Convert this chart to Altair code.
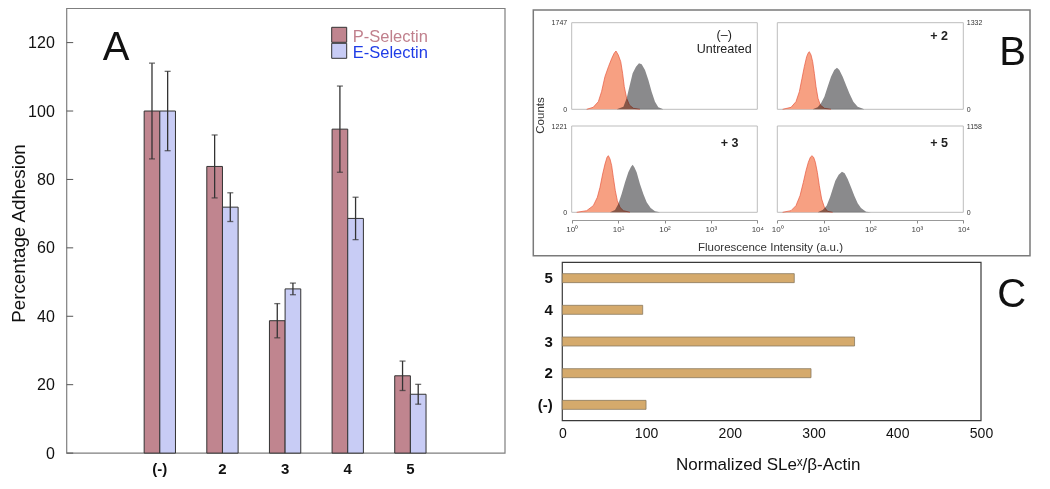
import altair as alt
import pandas as pd

# ---------------- data ----------------
# Panel A: percentage adhesion (bars with error bars)
a_categories = ["(-)", "2", "3", "4", "5"]
a_series = ["P-Selectin", "E-Selectin"]
p_selectin = [100.0, 83.8, 38.7, 94.7, 22.6]
p_selectin_err = [14.0, 9.2, 5.0, 12.6, 4.3]
e_selectin = [100.0, 71.9, 48.0, 68.6, 17.2]
e_selectin_err = [11.6, 4.2, 1.7, 6.2, 2.9]
a_y_ticks = [0, 20, 40, 60, 80, 100, 120]

# Panel B: flow cytometry histograms (fluorescence intensity, counts)
b_labels = ["(–)\nUntreated", "+ 2", "+ 3", "+ 5"]
b_count_max = [1747, 1332, 1221, 1158]
b_x_ticks = [1, 10, 100, 1000, 10000]

untreated_ctrl_fl = [2.1, 2.9, 3.75, 4.4, 5.2, 6.2, 7.3, 8.2, 9.0, 10.1, 11.4, 12.5, 13.6, 15.3, 17.5, 21.3, 29.6]
untreated_ctrl_ct = [0, 40, 154, 356, 658, 860, 1028, 1129, 1176, 1095, 961, 726, 457, 221, 87, 20, 0]
untreated_slex_fl = [9.3, 13.0, 15.3, 17.5, 20.6, 24.3, 28.2, 32.2, 38.0, 44.9, 52.8, 62.4, 73.6, 94.4]
untreated_slex_ct = [0, 53, 221, 457, 726, 860, 927, 907, 793, 591, 356, 154, 40, 0]

c2_ctrl_fl = [1.3, 1.97, 2.52, 2.98, 3.4, 3.81, 4.28, 4.65, 4.88, 5.31, 5.76, 6.26, 6.8, 7.5, 8.42, 10.3, 14.3]
c2_ctrl_ct = [0, 30, 117, 271, 476, 656, 810, 871, 886, 835, 733, 553, 348, 169, 66, 15, 0]
c2_slex_fl = [5.76, 7.38, 8.71, 10.3, 12.1, 14.3, 16.8, 19.2, 21.6, 25.5, 30.0, 35.4, 43.2, 53.5, 74.5]
c2_slex_ct = [0, 30, 92, 194, 348, 502, 604, 640, 604, 502, 374, 246, 117, 40, 0]

c3_ctrl_fl = [1.28, 2.1, 2.92, 3.57, 4.07, 4.65, 5.22, 5.77, 6.16, 6.69, 7.27, 7.89, 8.71, 9.62, 11.0, 13.0, 18.0]
c3_ctrl_ct = [0, 23, 94, 212, 353, 542, 683, 778, 801, 754, 660, 495, 306, 165, 70, 23, 0]
c3_slex_fl = [6.69, 8.58, 10.1, 11.9, 14.1, 16.6, 19.0, 20.6, 22.4, 25.1, 29.6, 35.0, 41.3, 50.4, 62.4, 80.0]
c3_slex_ct = [0, 33, 117, 259, 424, 566, 646, 674, 636, 566, 400, 259, 141, 61, 14, 0]

c5_ctrl_fl = [1.3, 1.97, 2.52, 3.08, 3.63, 4.14, 4.65, 5.13, 5.57, 6.05, 6.58, 7.26, 8.01, 9.0, 10.3, 12.1, 15.5]
c5_ctrl_ct = [0, 22, 89, 223, 402, 559, 671, 738, 760, 738, 671, 536, 357, 178, 67, 13, 0]
c5_slex_fl = [7.38, 9.46, 11.5, 13.6, 15.5, 17.7, 20.9, 24.6, 28.1, 32.6, 38.5, 45.3, 53.5, 63.1, 80.9, 103.5]
c5_slex_ct = [0, 31, 89, 201, 313, 425, 505, 545, 523, 447, 335, 223, 120, 58, 8, 0]

# Panel C: normalized SLex / beta-actin
c_categories = ["5", "4", "3", "2", "(-)"]
c_values = [277, 96, 349, 297, 100]
c_x_ticks = [0, 100, 200, 300, 400, 500]

# ---------------- layout (pixels, chart coordinates) ----------------
W, H = 1034, 473
A_X0, A_X1, A_Y0, A_Y1 = 58.7, 497.0, 0.4, 445.1
A_BAND_RANGE = [120.5, 433.7]
B_BOXES = [(563.7, 749.3, 14.7, 101.3), (769.3, 955.3, 14.7, 101.3),
           (563.7, 749.3, 118.0, 204.3), (769.3, 955.3, 118.0, 204.3)]
B_AXIS_Y = 212.0
B_OUTER = (525.3, 1022.0, 2.0, 247.7)
C_X0, C_X1, C_Y0, C_Y1 = 554.3, 973.0, 254.3, 412.7

P_COLOR, E_COLOR = "#C0858F", "#C8CCF5"
SALMON, SALMON_EDGE, GRAY = "#F7A082", "#E6573F", "#8A8A8C"
TAN = "#D5AA6C"
dummy = pd.DataFrame({"k": [0]})

children = []


def frame(x0, x1, y0, y1, color, width):
    return alt.Chart(dummy).mark_rect(fillOpacity=0, stroke=color, strokeWidth=width).encode(
        x=alt.value(x0), x2=alt.value(x1), y=alt.value(y0), y2=alt.value(y1))


def label(text, x, y, size, weight="normal", color="#111", align="center", **kw):
    return alt.Chart(dummy).mark_text(text=text, fontSize=size, fontWeight=weight, color=color,
                                      align=align, baseline="alphabetic", **kw).encode(
        x=alt.value(x), y=alt.value(y))


# ---------------- panel A ----------------
rows = []
for i, c in enumerate(a_categories):
    rows.append({"cat": c, "series": a_series[0], "value": p_selectin[i], "err": p_selectin_err[i]})
    rows.append({"cat": c, "series": a_series[1], "value": e_selectin[i], "err": e_selectin_err[i]})
dfA = pd.DataFrame(rows)

xA_scale = alt.Scale(domain=a_categories, range=A_BAND_RANGE, paddingInner=0.5, paddingOuter=0.25)
yA_scale = alt.Scale(domain=[0, 130], range=[A_Y1, A_Y0], nice=False, zero=True)
xoff = alt.XOffset("series:N", sort=a_series, scale=alt.Scale(domain=a_series))

xA = alt.X("cat:N", sort=a_categories, scale=xA_scale,
           axis=alt.Axis(orient="bottom", offset=A_Y1 - H, title=None, domain=False, ticks=False,
                         tickSize=0, labelAngle=0, labelFontSize=15, labelFontWeight="bold",
                         labelPadding=8, labelColor="#111", zindex=2))
xA_plain = alt.X("cat:N", sort=a_categories, scale=xA_scale, axis=None)
yA = alt.Y("value:Q", scale=yA_scale,
           axis=alt.Axis(orient="left", offset=-A_X0, values=a_y_ticks, domain=False, ticks=False,
                         tickSize=0, grid=False, labelFontSize=16, labelPadding=12.4,
                         labelColor="#111", title="Percentage Adhesion", titleX=17.0 - A_X0,
                         titleY=225, titleAngle=270, titleAlign="center",
                         titleBaseline="alphabetic", titleFontSize=18.8,
                         titleFontWeight="normal", titleColor="#111", zindex=2))

children.append(frame(A_X0, A_X1, A_Y0, A_Y1, "#7F7F7F", 1.2))
children.append(alt.Chart(dfA).mark_bar(stroke="#333333", strokeWidth=1).encode(
    x=xA, xOffset=xoff, y=yA,
    color=alt.Color("series:N", scale=alt.Scale(domain=a_series, range=[P_COLOR, E_COLOR]), legend=None)))
errBase = alt.Chart(dfA).transform_calculate(lo="datum.value - datum.err", hi="datum.value + datum.err")
children.append(errBase.mark_rule(color="#333333", strokeWidth=1.3).encode(
    x=xA_plain, xOffset=xoff, y=alt.Y("lo:Q", scale=yA_scale, axis=None), y2="hi:Q"))
children.append(errBase.mark_tick(color="#333333", thickness=1.3, size=6).encode(
    x=xA_plain, xOffset=xoff, y=alt.Y("lo:Q", scale=yA_scale, axis=None)))
children.append(errBase.mark_tick(color="#333333", thickness=1.3, size=6).encode(
    x=xA_plain, xOffset=xoff, y=alt.Y("hi:Q", scale=yA_scale, axis=None)))
children.append(alt.Chart(pd.DataFrame({"t": a_y_ticks})).mark_rule(color="#555555", strokeWidth=1).encode(
    y=alt.Y("t:Q", scale=yA_scale, axis=None), x=alt.value(A_X0), x2=alt.value(A_X0 + 6.5)))

# legend of panel A
children.append(alt.Chart(dummy).mark_rect(fill=P_COLOR, stroke="#333333", strokeWidth=1).encode(
    x=alt.value(323.7), x2=alt.value(338.7), y=alt.value(19.3), y2=alt.value(34.3)))
children.append(alt.Chart(dummy).mark_rect(fill=E_COLOR, stroke="#333333", strokeWidth=1).encode(
    x=alt.value(323.7), x2=alt.value(338.7), y=alt.value(35.3), y2=alt.value(50.3)))
children.append(label(a_series[0], 344.7, 34.3, 16.5, color="#C0808D", align="left"))
children.append(label(a_series[1], 344.7, 50.3, 16.5, color="#1F3CE6", align="left"))
children.append(label("A", 108.0, 52.0, 40))


# ---------------- panel B ----------------
children.append(frame(*B_OUTER, "#7A7A7A", 1.5))


def b_panel(k, ctrl_fl, ctrl_ct, slex_fl, slex_ct):
    x0, x1, y0, y1 = B_BOXES[k]
    left = k in (0, 2)
    bottom = k in (2, 3)
    xs = alt.Scale(type="log", domain=[1, 10000], range=[x0, x1], nice=False)
    ys = alt.Scale(domain=[0, b_count_max[k]], range=[y1, y0], nice=False, zero=True)
    ykw = dict(orient="left" if left else "right", offset=(-x0 if left else x1 - W),
               values=[0, b_count_max[k]], format="d", domain=False, ticks=False, tickSize=0,
               grid=False, labelFontSize=7, labelColor="#333333", labelPadding=5 if left else 3,
               title=None, zindex=2)
    if k == 0:
        ykw.update(title="Counts", titleX=532.0 - x0, titleY=107, titleAngle=270,
                   titleAlign="center", titleBaseline="middle", titleFontSize=11.5,
                   titleFontWeight="normal", titleColor="#333333")
    yax = alt.Axis(**ykw)
    if bottom:
        xkw = dict(orient="bottom", offset=B_AXIS_Y - H, values=b_x_ticks,
                   labelExpr="'10' + ['⁰','¹','²','³','⁴'][round(log(datum.value)/LN10)]",
                   labelFontSize=8, labelColor="#444444", labelPadding=2, tickSize=3,
                   tickColor="#888888", domainColor="#999999", grid=False, labelFlush=False,
                   labelOverlap=False, title=None, zindex=2)
        if k == 2:
            xkw.update(title="Fluorescence Intensity (a.u.)", titleX=762.0, titleY=27.7,
                       titleAlign="center", titleBaseline="middle", titleFontSize=11.5,
                       titleFontWeight="normal", titleColor="#333333")
        xax = alt.Axis(**xkw)
    else:
        xax = None
    dctrl = pd.DataFrame({"fl": ctrl_fl, "count": ctrl_ct})
    dslex = pd.DataFrame({"fl": slex_fl, "count": slex_ct})
    out = [frame(x0, x1, y0, y1, "#BDBDBD", 1)]
    out.append(alt.Chart(dctrl).mark_area(color=SALMON, opacity=1).encode(
        x=alt.X("fl:Q", scale=xs, axis=xax), y=alt.Y("count:Q", scale=ys, axis=yax)))
    out.append(alt.Chart(dctrl).mark_line(color=SALMON_EDGE, strokeWidth=0.7).encode(
        x=alt.X("fl:Q", scale=xs, axis=None), y=alt.Y("count:Q", scale=ys, axis=None)))
    out.append(alt.Chart(dslex).mark_area(color=GRAY, opacity=1, blend="multiply").encode(
        x=alt.X("fl:Q", scale=xs, axis=None), y=alt.Y("count:Q", scale=ys, axis=None)))
    return out


children += b_panel(0, untreated_ctrl_fl, untreated_ctrl_ct, untreated_slex_fl, untreated_slex_ct)
children += b_panel(1, c2_ctrl_fl, c2_ctrl_ct, c2_slex_fl, c2_slex_ct)
children += b_panel(2, c3_ctrl_fl, c3_ctrl_ct, c3_slex_fl, c3_slex_ct)
children += b_panel(3, c5_ctrl_fl, c5_ctrl_ct, c5_slex_fl, c5_slex_ct)

children.append(label(b_labels[0], 716.2, 31.0, 12.5, color="#222222", lineBreak="\n", lineHeight=13.5))
children.append(label(b_labels[1], 931.0, 32.3, 12.5, weight="bold", color="#222222"))
children.append(label(b_labels[2], 721.5, 138.7, 12.5, weight="bold", color="#222222"))
children.append(label(b_labels[3], 931.0, 138.7, 12.5, weight="bold", color="#222222"))
children.append(label("B", 1004.5, 57.0, 40))

# ---------------- panel C ----------------
dfC = pd.DataFrame({"cat": c_categories, "val": c_values})
xC_scale = alt.Scale(domain=[0, 500], range=[C_X0, C_X1], nice=False, zero=True)
yC_scale = alt.Scale(domain=c_categories, range=[C_Y0, C_Y1], paddingInner=0.716, paddingOuter=0.358)
children.append(frame(C_X0, C_X1, C_Y0, C_Y1, "#3A3A3A", 1.2))
children.append(alt.Chart(dfC).mark_bar(color=TAN, stroke="#8A7A60", strokeWidth=0.8).encode(
    x=alt.X("val:Q", scale=xC_scale,
            axis=alt.Axis(orient="bottom", offset=C_Y1 - H, values=c_x_ticks, domain=False,
                          ticks=False, tickSize=0, grid=False, labelFontSize=14, labelPadding=6,
                          labelFlush=False, labelColor="#111",
                          title="Normalized SLeˣ/β-Actin", titleX=759.8, titleY=48.3,
                          titleAlign="center", titleBaseline="alphabetic", titleFontSize=17,
                          titleFontWeight="normal", titleColor="#111", zindex=2)),
    y=alt.Y("cat:N", sort=c_categories, scale=yC_scale,
            axis=alt.Axis(orient="left", offset=-C_X0, domain=False, ticks=False, tickSize=0,
                          labelFontSize=15, labelFontWeight="bold", labelPadding=10,
                          labelColor="#111", title=None, zindex=2)),
))
children.append(label("C", 1003.7, 299.0, 40))

# ---------------- assemble ----------------
chart = alt.layer(*children).resolve_scale(
    x="independent", y="independent", xOffset="independent", color="independent"
).properties(
    width=W, height=H, autosize=alt.AutoSizeParams(type="none"), padding=0
).configure(
    font="Liberation Sans", view=alt.ViewConfig(strokeWidth=0, stroke="transparent")
)

chart.save("out.html", embed_options={"renderer": "svg", "actions": False})
